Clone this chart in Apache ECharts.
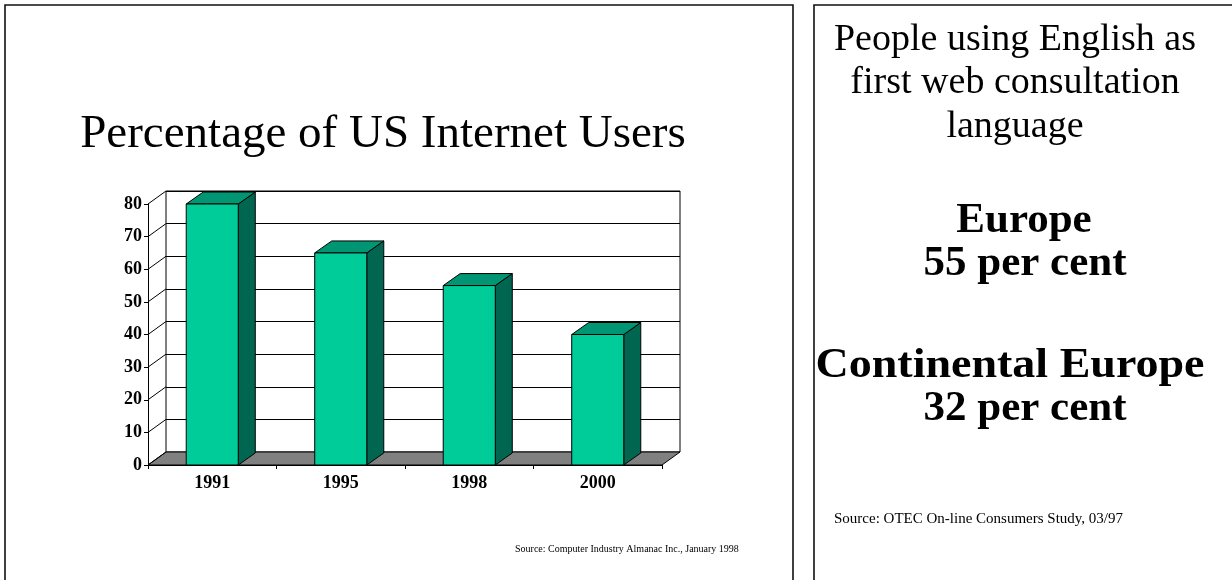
<!DOCTYPE html>
<html><head><meta charset="utf-8">
<script src="https://cdn.jsdelivr.net/npm/echarts@6/dist/echarts.min.js"></script>
<style>html,body{margin:0;padding:0;background:#fff}#c{width:1232px;height:580px}</style>
</head><body><div id="c"></div>
<script>
const years = ['1991', '1995', '1998', '2000'];
const usShare = [80, 65, 55, 40];
const yTicks = [0, 10, 20, 30, 40, 50, 60, 70, 80];
const titleLeft = 'Percentage of US Internet Users';
const sourceLeft = 'Source: Computer Industry Almanac Inc., January 1998';
const rightTitle = ['People using English as', 'first web consultation', 'language'];
const rightStats = [['Europe', '55 per cent'], ['Continental Europe', '32 per cent']];
const sourceRight = 'Source: OTEC On-line Consumers Study, 03/97';

const SERIF = '"Liberation Serif","Times New Roman",serif';
const WALL_DX = 18, WALL_DY = 13, BAR_DX = 17, BAR_DY = 12;
const chart = echarts.init(document.getElementById('c'), null, { renderer: 'canvas' });

function txt(text, x, y, size, bold, align, sx) {
  return {
    type: 'text', x: x, y: y, z: 10, scaleX: sx || 1,
    style: {
      text: text, fill: '#000',
      font: (bold ? 'bold ' : '') + size + 'px ' + SERIF,
      align: align || 'center', verticalAlign: 'middle',
      textAlign: align || 'center', textVerticalAlign: 'middle'
    }
  };
}

const graphics = [
  { type: 'rect', shape: { x: 5, y: 5, width: 788, height: 590 }, style: { fill: 'none', stroke: '#111', lineWidth: 1.6 }, z: 0 },
  { type: 'rect', shape: { x: 814, y: 5, width: 440, height: 590 }, style: { fill: 'none', stroke: '#111', lineWidth: 1.6 }, z: 0 },
  txt(titleLeft, 383, 135, 47, false),
  txt(sourceLeft, 515, 549, 10, false, 'left'),
  txt(rightTitle[0], 1015, 40, 38, false),
  txt(rightTitle[1], 1015, 83, 38, false),
  txt(rightTitle[2], 1015, 127, 38, false),
  txt(rightStats[0][0], 1024, 221, 43, true),
  txt(rightStats[0][1], 1025, 264, 43, true),
  txt(rightStats[1][0], 1010, 366, 43, true, 'center', 1.07),
  txt(rightStats[1][1], 1025, 409, 43, true),
  txt(sourceRight, 834, 519, 15, false, 'left')
];

const labelStyle = { fontFamily: SERIF, fontWeight: 'bold', fontSize: 18, color: '#000' };

chart.setOption({
  animation: false,
  backgroundColor: '#fff',
  graphic: graphics,
  grid: [
    { left: 148, top: 204, width: 514, height: 261, show: false },
    { left: 166, top: 191, width: 514, height: 261, show: true, borderColor: '#000', borderWidth: 1, backgroundColor: 'transparent' }
  ],
  xAxis: [
    {
      gridIndex: 0, type: 'category', data: years,
      axisLine: { show: true, lineStyle: { color: '#000', width: 1 } },
      axisTick: { show: true, alignWithLabel: false, length: 4, lineStyle: { color: '#000' } },
      axisLabel: Object.assign({ margin: 9 }, labelStyle),
      splitLine: { show: false }
    },
    { gridIndex: 1, type: 'category', data: years, show: false }
  ],
  yAxis: [
    {
      gridIndex: 0, type: 'value', min: 0, max: 80, interval: 10,
      axisLine: { show: true, lineStyle: { color: '#000', width: 1 } },
      axisTick: { show: true, length: 4, lineStyle: { color: '#000' } },
      axisLabel: Object.assign({ margin: 6 }, labelStyle),
      splitLine: { show: false }
    },
    {
      gridIndex: 1, type: 'value', min: 0, max: 80, interval: 10,
      axisLine: { show: false }, axisTick: { show: false }, axisLabel: { show: false },
      splitLine: { show: true, lineStyle: { color: '#000', width: 1 } }
    }
  ],
  series: [
    {
      type: 'custom', xAxisIndex: 0, yAxisIndex: 0, z: 2,
      data: [[0, 0]],
      renderItem: function (params, api) {
        const cs = params.coordSys;
        const x0 = cs.x, x1 = cs.x + cs.width, y0 = api.coord([0, 0])[1];
        return {
          type: 'polygon',
          shape: { points: [[x0, y0], [x0 + WALL_DX, y0 - WALL_DY], [x1 + WALL_DX, y0 - WALL_DY], [x1, y0]] },
          style: { fill: '#808080', stroke: '#000', lineWidth: 1 }
        };
      }
    },
    {
      type: 'custom', xAxisIndex: 0, yAxisIndex: 0, z: 3,
      data: yTicks.map(function (v) { return [0, v]; }),
      renderItem: function (params, api) {
        const cs = params.coordSys;
        const y = api.coord([0, api.value(1)])[1];
        return {
          type: 'line',
          shape: { x1: cs.x, y1: y, x2: cs.x + WALL_DX, y2: y - WALL_DY },
          style: { stroke: '#000', lineWidth: 1 }
        };
      }
    },
    {
      type: 'custom', xAxisIndex: 0, yAxisIndex: 0, z: 4,
      data: years.map(function (y, i) { return [i, usShare[i]]; }),
      renderItem: function (params, api) {
        const p = api.coord([api.value(0), api.value(1)]);
        const b = api.coord([api.value(0), 0]);
        const bw = api.size([1, 0])[0] * 0.405;
        const l = p[0] - bw / 2, r = p[0] + bw / 2, t = p[1], bt = b[1];
        const st = { stroke: '#000', lineWidth: 1 };
        return {
          type: 'group',
          children: [
            { type: 'polygon', shape: { points: [[r, t], [r + BAR_DX, t - BAR_DY], [r + BAR_DX, bt - BAR_DY], [r, bt]] }, style: Object.assign({ fill: '#006650' }, st) },
            { type: 'polygon', shape: { points: [[l, t], [l + BAR_DX, t - BAR_DY], [r + BAR_DX, t - BAR_DY], [r, t]] }, style: Object.assign({ fill: '#009673' }, st) },
            { type: 'rect', shape: { x: l, y: t, width: bw, height: bt - t }, style: Object.assign({ fill: '#00CC99' }, st) }
          ]
        };
      }
    }
  ]
});
</script></body></html>
